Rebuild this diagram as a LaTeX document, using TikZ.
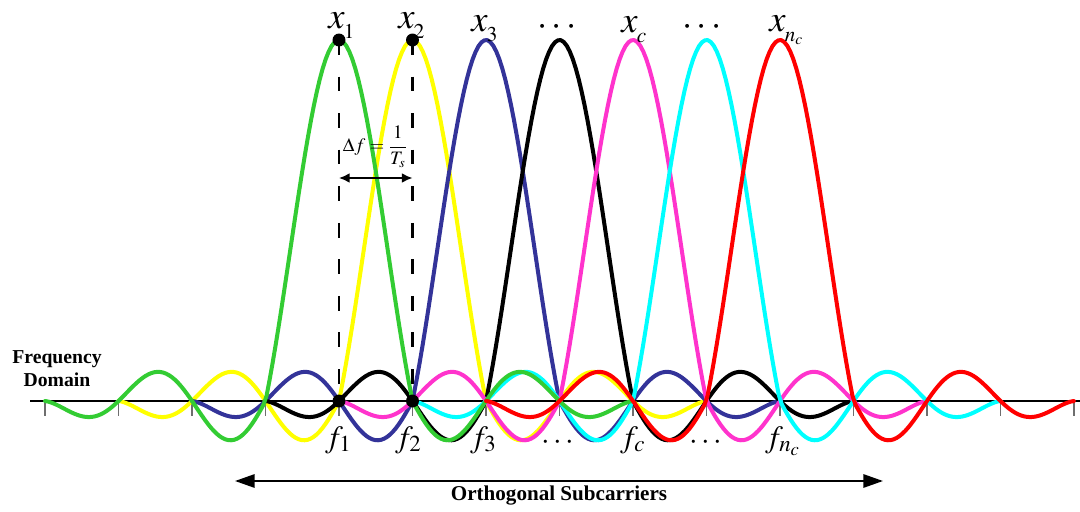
\documentclass[tikz,border=0pt]{standalone}
\usepackage{mathptmx}
\usepackage{fontspec}
\setmainfont{Liberation Serif}
\usetikzlibrary{arrows.meta}
\definecolor{cgreen}{RGB}{51,204,51}
\definecolor{cyellow}{RGB}{255,255,0}
\definecolor{cblue}{RGB}{51,51,153}
\definecolor{cmagenta}{RGB}{255,51,204}
\definecolor{ccyan}{RGB}{0,255,255}
\definecolor{cred}{RGB}{255,0,0}
\definecolor{ctick}{RGB}{110,110,110}
\newcommand{\xlb}[1]{$x$\kern-0.5pt\raisebox{-6.5pt}{\fontsize{15}{15}\selectfont$#1$}}
\begin{document}
\begin{tikzpicture}[x=0.025cm,y=-0.025cm,
  declare function={sl(\u)=(abs(\u)<1) ? 361*sin(180*\u)/(pi*\u) : 22.5*(4.02-abs(\u))^0.6*sin(180*abs(\u));},
  curve/.style={line width=2.85pt,line join=round,line cap=round},
  axisline/.style={line width=2pt,black},
  tickline/.style={line width=1.1pt,ctick},
  dashline/.style={line width=2pt,dash pattern=on 10.5pt off 15.5pt},
  dotnode/.style={circle,fill=black,inner sep=0pt,minimum size=9.2pt},
  xlab/.style={font=\fontsize{26}{30}\selectfont,inner sep=0pt},
  flab/.style={font=\fontsize{22}{26}\selectfont,inner sep=0pt},
  boldlab/.style={font=\fontsize{14}{16.5}\selectfont\bfseries,align=center,inner sep=0pt},
  dfarrow/.style={line width=1.4pt,{Latex[length=7.5pt,width=7pt]}-{Latex[length=7.5pt,width=7pt]}},
  bigarrow/.style={line width=1.4pt,{Triangle[length=14pt,width=9.5pt]}-{Triangle[length=14pt,width=9.5pt]}}]
\useasboundingbox (0,0) rectangle (1080,512);
% axis and ticks
\coordinate (axl) at (30,401);
\coordinate (axr) at (1080,401);
\draw[axisline] (axl) -- (axr);
\foreach \k in {0,...,14}{
  \draw[tickline] ({45+73.5*\k},401) -- ++(0,15);
}
% subcarrier curves
\foreach \c/\col in {412.5/cyellow,486/cblue,559.5/black,633/cmagenta,706.5/ccyan,339/cgreen,780/cred}{
  \draw[curve,\col] plot[domain=-4:4,samples=200] ({\c+73.5*\x},{401-sl(\x)});
}
% dots and dashed lines
\node[dotnode] (t1) at (339,40) {};
\node[dotnode] (t2) at (412.5,40) {};
\node[dotnode] (b1) at (339,401) {};
\node[dotnode] (b2) at (412.5,401) {};
\draw[dashline] (t1.center) -- (b1.center);
\draw[dashline] (t2.center) -- (b2.center);
% delta f
\coordinate (da) at (339,178);
\coordinate (db) at (412.5,178);
\draw[dfarrow] (da) -- (db);
\node[font=\fontsize{13.5}{15}\selectfont,inner sep=0pt] (dflab) at (375,147) {$\Delta f={\displaystyle\frac{1}{T_s}}$};
% top labels
\node[xlab,anchor=base west] (lx1) at (328,29) {\xlb{1}};
\node[xlab,anchor=base west] (lx2) at (398,29) {\xlb{2}};
\node[xlab,anchor=base west] (lx3) at (471,32) {\xlb{3}};
\node[xlab,anchor=base] (ld1) at (557,36) {$\cdots$};
\node[xlab,anchor=base west] (lxc) at (621,33) {\xlb{c}};
\node[xlab,anchor=base] (ld2) at (702,36) {$\cdots$};
\node[xlab,anchor=base west] (lxn) at (769,32) {\xlb{n_c}};
% bottom labels
\node[flab,anchor=base west] (lf1) at (325,447) {$f_1$};
\node[flab,anchor=base west] (lf2) at (395,447) {$f_2$};
\node[flab,anchor=base west] (lf3) at (470,447) {$f_3$};
\node[flab,anchor=base] (lfd1) at (558,449) {$\cdots$};
\node[flab,anchor=base west] (lfc) at (620,447) {$f_c$};
\node[flab,anchor=base] (lfd2) at (706,449) {$\cdots$};
\node[flab,anchor=base west] (lfn) at (765,447) {$f_{n_c}$};
% texts
\node[boldlab] (fd) at (57,369) {Frequency\\Domain};
\coordinate (ol) at (235,481);
\coordinate (or) at (883,481);
\draw[bigarrow] (ol) -- (or);
\node[font=\fontsize{15}{18}\selectfont\bfseries,inner sep=0pt,anchor=base] (osc) at (559,500) {Orthogonal Subcarriers};
\end{tikzpicture}
\end{document}
